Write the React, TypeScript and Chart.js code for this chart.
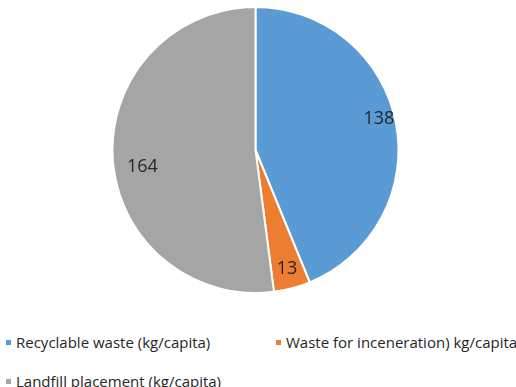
import React, { useEffect, useRef } from "react";
import { Chart, registerables } from "chart.js";

Chart.register(...registerables);

const categories = [
  "Recyclable waste (kg/capita)",
  "Waste for inceneration) kg/capita",
  "Landfill placement (kg/capita)",
];
const values = [138, 13, 164];
const colors = ["#5B9BD5", "#ED7D31", "#A5A5A5"];

const FONT = "'Open Sans', 'Noto Sans', sans-serif";
// label placement style (fraction of radius, angular nudge in degrees)
const labelRadiusFrac = [0.89, 0.86, 0.8];
const labelAngleNudge = [-3, 0, -5];

const labelPlugin = {
  id: "sliceLabels",
  afterDatasetsDraw(chart: any) {
    const ctx = chart.ctx;
    const meta = chart.getDatasetMeta(0);
    ctx.save();
    ctx.font = `18px ${FONT}`;
    ctx.fillStyle = "#262626";
    ctx.textAlign = "center";
    ctx.textBaseline = "middle";
    meta.data.forEach((arc: any, i: number) => {
      const p = arc.getProps(["x", "y", "startAngle", "endAngle", "outerRadius"], true);
      const mid = (p.startAngle + p.endAngle) / 2 + (labelAngleNudge[i] * Math.PI) / 180;
      const r = p.outerRadius * labelRadiusFrac[i];
      ctx.fillText(String(values[i]), p.x + Math.cos(mid) * r, p.y + Math.sin(mid) * r);
    });
    ctx.restore();
  },
};

export default function App() {
  const ref = useRef<HTMLCanvasElement | null>(null);
  useEffect(() => {
    document.documentElement.style.overflow = "hidden";
    document.body.style.overflow = "hidden";
    document.body.style.margin = "0";
    if (!ref.current) return;
    const chart = new Chart(ref.current, {
      type: "pie",
      data: {
        labels: categories,
        datasets: [
          {
            data: values,
            backgroundColor: colors,
            borderColor: "#ffffff",
            borderWidth: 2,
          },
        ],
      },
      options: {
        animation: false,
        responsive: false,
        maintainAspectRatio: false,
        layout: { padding: { top: 6, bottom: 2, left: 8, right: 13 } },
        plugins: {
          legend: { display: false },
          tooltip: { enabled: false },
        },
      },
      plugins: [labelPlugin],
    });
    return () => chart.destroy();
  }, []);

  const legendItem = (i: number, left: number, top: number) => (
    <div
      key={i}
      style={{
        position: "absolute",
        left,
        top,
        display: "flex",
        alignItems: "center",
        whiteSpace: "nowrap",
        fontFamily: FONT,
        fontSize: 15,
        color: "#262626",
        lineHeight: "18px",
      }}
    >
      <span
        style={{
          display: "inline-block",
          width: 5,
          height: 5,
          background: colors[i],
          marginRight: 5,
        }}
      />
      {categories[i]}
    </div>
  );

  return (
    <div style={{ position: "relative", width: 516, height: 387, overflow: "hidden" }}>
      <canvas ref={ref} width={516} height={296} style={{ display: "block" }} />
      {legendItem(0, 6, 333)}
      {legendItem(1, 276, 333)}
      {legendItem(2, 6, 372)}
    </div>
  );
}
